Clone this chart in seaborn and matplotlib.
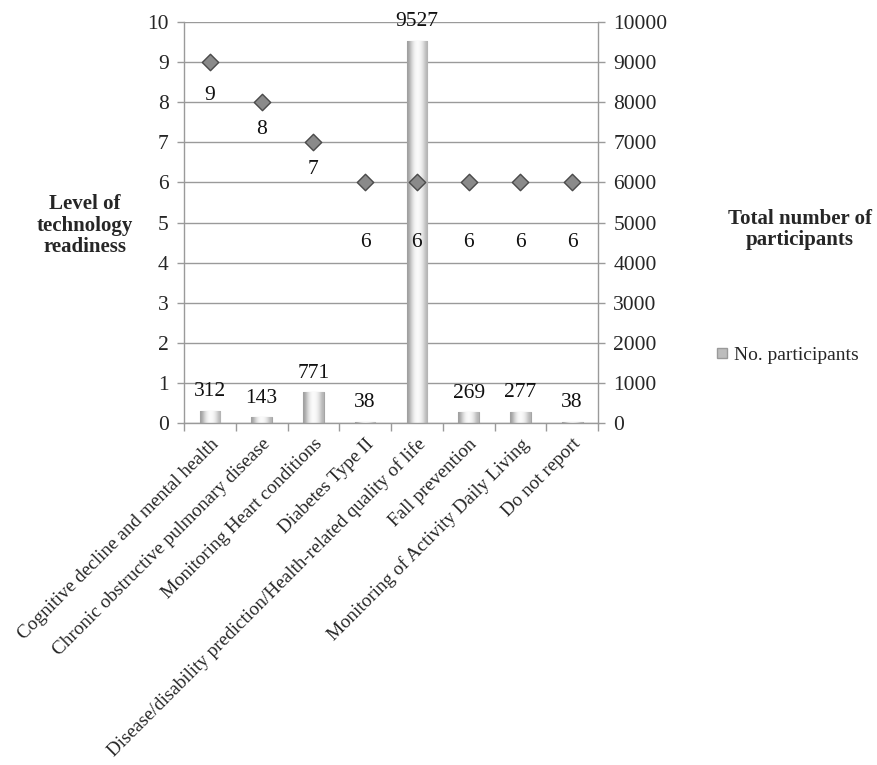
import numpy as np
import pandas as pd
import matplotlib
matplotlib.use("Agg")
import matplotlib.pyplot as plt
import seaborn as sns
from matplotlib.lines import Line2D

categories = [
    "Cognitive decline and mental health",
    "Chronic obstructive pulmonary disease",
    "Monitoring Heart conditions",
    "Diabetes Type II",
    "Disease/disability prediction/Health-related quality of life",
    "Fall prevention",
    "Monitoring of Activity Daily Living",
    "Do not report",
]
participants = [312, 143, 771, 38, 9527, 269, 277, 38]
readiness = [9, 8, 7, 6, 6, 6, 6, 6]
left_ticks = list(range(0, 11))
right_ticks = list(range(0, 10001, 1000))

sns.set_theme(style="white")
plt.rcParams["font.family"] = ["Liberation Serif", "DejaVu Serif"]

NUM_FS = 15.5
CAT_FS = 13.8
TITLE_FS = 15

fig = plt.figure(figsize=(8.77, 7.65), dpi=100)
ax = fig.add_axes([0.2098, 0.447, 0.4721, 0.5242])

df = pd.DataFrame({"cat": categories, "n": participants})
sns.barplot(data=df, x="cat", y="n", ax=ax, color="#c8c8c8", width=0.4,
            edgecolor="#a5a5a5", linewidth=0.8, saturation=1)

# cylinder-like gradient on each bar
grad = np.array([[0.62, 0.82, 0.95, 0.99, 0.96, 0.87, 0.7]])
for p in ax.patches:
    x0, y0 = p.get_x(), p.get_y()
    w, h = p.get_width(), p.get_height()
    im = ax.imshow(grad, cmap="gray", vmin=0, vmax=1, aspect="auto",
                   extent=[x0, x0 + w, y0, y0 + h], interpolation="bicubic",
                   zorder=p.get_zorder() + 0.1)
    im.set_clip_path(p)
ax.set_xlim(-0.5, len(categories) - 0.5)
ax.set_ylim(0, 10000)

for i, v in enumerate(participants):
    ax.annotate(str(v), (i, v), xytext=(0, 19), textcoords="offset pixels",
                ha="center", va="center", fontsize=NUM_FS, color="#111",
                annotation_clip=False)

ax.set_ylabel("")
ax.set_xlabel("")
ax.yaxis.grid(True, color="#9a9a9a", linewidth=1)
ax.set_axisbelow(True)
ax.set_xticks(np.arange(len(categories) + 1) - 0.5, minor=True)
ax.set_xticks(np.arange(len(categories)))
ax.set_xticklabels(categories, rotation=45, ha="right", rotation_mode="anchor",
                   fontsize=CAT_FS)
ax.tick_params(axis="x", which="major", length=0, pad=9)
ax.tick_params(axis="x", which="minor", length=6, color="#9a9a9a", width=1,
               direction="out", bottom=True)
for s in ["left", "right", "bottom"]:
    ax.spines[s].set_visible(True)
    ax.spines[s].set_color("#9a9a9a")
    ax.spines[s].set_linewidth(1)
ax.spines["top"].set_visible(False)

ax2 = ax.twinx()
sns.scatterplot(x=np.arange(len(categories)), y=readiness, ax=ax2, marker="D",
                s=70, color="#8a8a8a", edgecolor="#4a4a4a", linewidth=1,
                zorder=5, legend=False)
ax2.set_ylim(0, 10)
ax2.set_xlim(-0.5, len(categories) - 0.5)

# right axis: participants (bars axis); left axis: readiness
ax.yaxis.set_ticks_position("right")
ax.set_yticks(right_ticks)
ax.set_yticklabels([str(t) for t in right_ticks], fontsize=NUM_FS)
ax.tick_params(axis="y", length=5, color="#9a9a9a", width=1, direction="out",
               right=True, left=False, labelright=True, labelleft=False, pad=6)

ax2.yaxis.set_ticks_position("left")
ax2.set_yticks(left_ticks)
ax2.set_yticklabels([str(t) for t in left_ticks], fontsize=NUM_FS)
ax2.tick_params(axis="y", length=5, color="#9a9a9a", width=1, direction="out",
                left=True, right=False, labelleft=True, labelright=False, pad=6)
ax2.set_ylabel("")
ax2.patch.set_visible(False)
for s in ax2.spines.values():
    s.set_visible(False)
ax2.grid(False)

offsets = [-33, -27, -27, -60, -60, -60, -60, -60]
for i, (v, off) in enumerate(zip(readiness, offsets)):
    ax2.annotate(str(v), (i, v), xytext=(0, off), textcoords="offset pixels",
                 ha="center", va="center", fontsize=NUM_FS, color="#111")

fig.text(0.097, 0.705, "Level of\ntechnology\nreadiness", ha="center", va="center",
         fontsize=TITLE_FS, fontweight="bold", linespacing=1.1)
fig.text(0.912, 0.7, "Total number of\nparticipants", ha="center", va="center",
         fontsize=TITLE_FS, fontweight="bold", linespacing=1.1)

handle = Line2D([], [], marker="s", linestyle="none", markersize=7,
                markerfacecolor="#bdbdbd", markeredgecolor="#9a9a9a")
fig.legend([handle], ["No. participants"], loc="center left",
           bbox_to_anchor=(0.815, 0.536), frameon=False, fontsize=14,
           handletextpad=0.3, borderpad=0, borderaxespad=0, handlelength=0.7)

fig.savefig("out.png", dpi=100)
